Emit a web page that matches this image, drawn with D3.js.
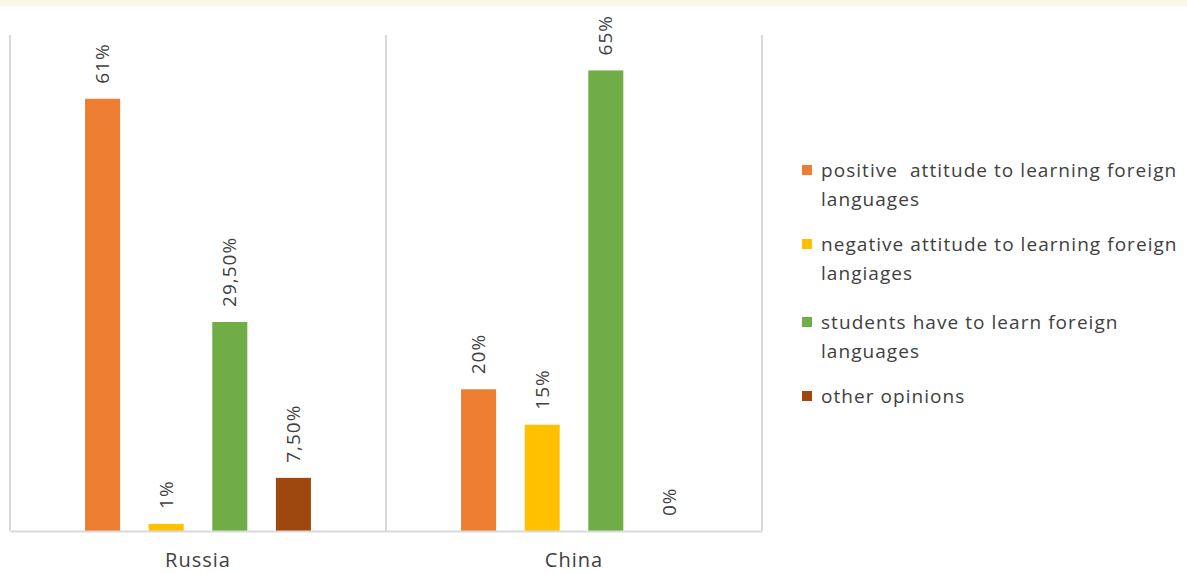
<!DOCTYPE html>
<html><head><meta charset="utf-8">
<script src="https://cdn.jsdelivr.net/npm/d3@7"></script>
<style>
html,body{margin:0;padding:0;background:#fff;}
svg{display:block;font-family:"Open Sans",sans-serif;}
</style></head>
<body>
<svg id="c" width="1187" height="573"></svg>
<script>
const categories = ["Russia", "China"];
const seriesNames = [
  "positive  attitude to learning foreign languages",
  "negative attitude to learning foreign langiages",
  "students have to learn foreign languages",
  "other opinions"
];
const legendLines = [
  ["positive  attitude to learning foreign", "languages"],
  ["negative attitude to learning foreign", "langiages"],
  ["students have to learn foreign", "languages"],
  ["other opinions"]
];
const positive = [61, 20];
const negative = [1, 15];
const haveTo = [29.5, 65];
const other = [7.5, 0];
const valueLabels = [["61%", "20%"], ["1%", "15%"], ["29,50%", "65%"], ["7,50%", "0%"]];
const colors = ["#ED7D31", "#FFC000", "#70AD47", "#9E480E"];

const series = [positive, negative, haveTo, other];
const svg = d3.select("#c");

// top cream band
svg.append("rect").attr("x",0).attr("y",0).attr("width",1187).attr("height",6).attr("fill","#fbf7ec");

const plot = {left: 10, right: 762, top: 35, bottom: 531};
const x0 = d3.scaleBand().domain(categories).range([plot.left, plot.right]).paddingInner(0).paddingOuter(0);
const x1 = d3.scaleBand().domain(d3.range(series.length)).range([0, x0.bandwidth()]).paddingInner(0.449).paddingOuter(1.18);
const y = d3.scaleLinear().domain([0, 70]).range([plot.bottom, plot.top]);

// vertical separators
const seps = [plot.left, ...categories.map(c => x0(c) + x0.bandwidth())];
svg.selectAll("line.sep").data(seps).join("line")
  .attr("x1", d => d).attr("x2", d => d).attr("y1", plot.top).attr("y2", plot.bottom)
  .attr("stroke", "#d9d9d9").attr("stroke-width", 2);

const g = svg.append("g");
series.forEach((vals, si) => {
  categories.forEach((cat, ci) => {
    const v = vals[ci];
    const bx = x0(cat) + x1(si);
    g.append("rect").attr("x", bx).attr("y", y(v)).attr("width", x1.bandwidth())
      .attr("height", y(0) - y(v)).attr("fill", colors[si]);
    const cx = bx + x1.bandwidth() / 2;
    const ty = y(v) - 15;
    g.append("text").attr("transform", `translate(${cx},${ty}) rotate(-90)`)
      .attr("dy", "0.35em").attr("text-anchor", "start")
      .attr("font-size", 19).attr("letter-spacing", 1).attr("fill", "#404040").text(valueLabels[si][ci]);
  });
});

// baseline axis
const xAxis = d3.axisBottom(x0).tickSize(0).tickPadding(22);
const ax = svg.append("g").attr("transform", `translate(0,${plot.bottom})`).call(xAxis);
ax.select(".domain").attr("stroke", "#d9d9d9").attr("stroke-width", 2);
ax.selectAll("text").attr("font-size", 20).attr("letter-spacing", 1).attr("fill", "#404040").attr("font-family", "Open Sans, sans-serif");

// legend
const lg = svg.append("g");
const entryY = [170, 244, 322, 396];
legendLines.forEach((lines, i) => {
  lg.append("rect").attr("x", 802).attr("y", entryY[i] - 5).attr("width", 10).attr("height", 10).attr("fill", colors[i]);
  lines.forEach((ln, j) => {
    lg.append("text").attr("x", 821).attr("y", entryY[i] + j * 29).attr("dy", "0.35em")
      .attr("font-size", 19).attr("letter-spacing", 1.05).attr("fill", "#404040").style("white-space", "pre").text(ln);
  });
});
</script>
</body></html>
